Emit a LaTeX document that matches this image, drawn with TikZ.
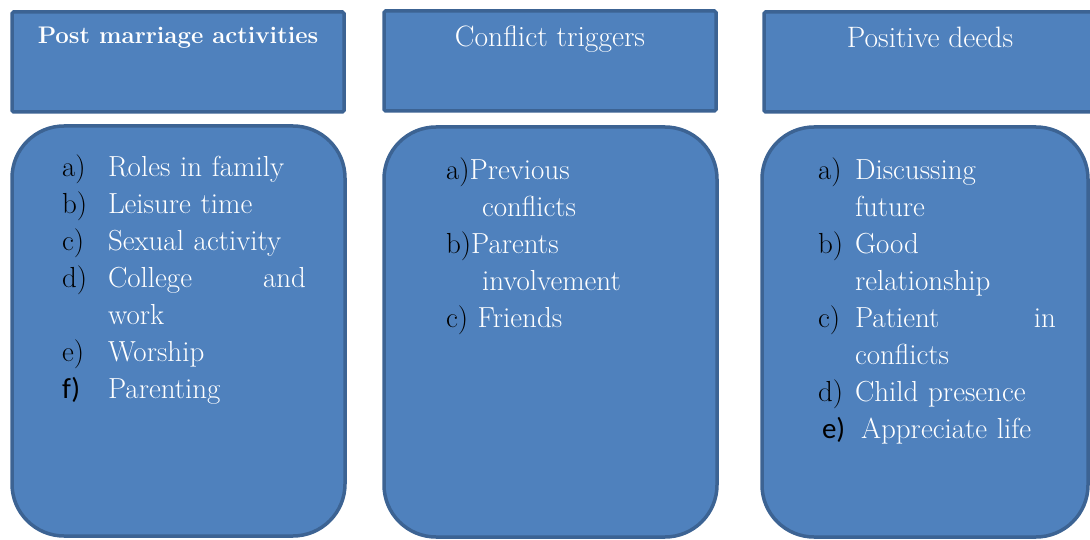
\documentclass[tikz,border=0pt]{standalone}
\usepackage{fontspec}
\newfontfamily\calibri{Carlito}
\definecolor{boxfill}{HTML}{4F81BD}
\definecolor{boxline}{HTML}{3C6393}
\newcommand\lbl[2][46pt]{\makebox[#1][l]{\color{black}#2}}
\begin{document}
\begin{tikzpicture}[x=1pt,y=-1pt,inner sep=0pt,outer sep=0pt,line width=3.5pt,
headbox/.style={draw=boxline,fill=boxfill,rectangle,rounded corners=1.5pt,minimum width=332pt,minimum height=100pt},
bodybox/.style={draw=boxline,fill=boxfill,rectangle,rounded corners=52pt,minimum height=410pt},
headtext/.style={text=white,anchor=north,font=\fontsize{29.5}{35}\selectfont},
listtext/.style={text=white,anchor=north west,align=left,font=\fontsize{29}{37}\selectfont}]
\useasboundingbox (0,0) rectangle (1090,540);
% headers
\draw (178,62) node[headbox] (head1) {};
\draw (550,61) node[headbox] (head2) {};
\draw (930,62) node[headbox] (head3) {};
\draw (head1.north) ++(0,15) node[headtext,font=\fontsize{24}{29}\selectfont\bfseries] (title1) {Post marriage activities};
\draw (head2.north) ++(0,15) node[headtext] (title2) {Conflict triggers};
\draw (head3.north) ++(0,15) node[headtext] (title3) {Positive deeds};
% lists
\draw (178.5,331) node[bodybox,minimum width=333pt] (body1) {};
\draw (550.5,332) node[bodybox,minimum width=333pt] (body2) {};
\draw (925,332) node[bodybox,minimum width=326pt] (body3) {};
\draw (62,155) node[listtext,text width=244pt] (list1) {\lbl{a)}Roles~in~family\\
  \lbl{b)}Leisure~time\\ \lbl{c)}Sexual~activity\\ \lbl{d)}College\hfill and\\
  \hspace*{46pt}work\\ \lbl{e)}Worship\\ \lbl{\calibri f)}Parenting};
\draw (446,158) node[listtext,text width=260pt] (list2) {\textcolor{black}{a)}Previous\\
  \hspace*{36pt}conflicts\\ \textcolor{black}{b)}Parents\\ \hspace*{36pt}involvement\\
  \textcolor{black}{c)} Friends};
\draw (818,158) node[listtext,text width=238pt] (list3) {\lbl[37pt]{a)}Discussing\\
  \hspace*{37pt}future\\ \lbl[37pt]{b)}Good\\ \hspace*{37pt}relationship\\
  \lbl[37pt]{c)}Patient\hfill in\\ \hspace*{37pt}conflicts\\ \lbl[37pt]{d)}Child~presence\\
  \hspace*{4pt}\lbl[39pt]{\calibri e)}Appreciate~life};
\end{tikzpicture}
\end{document}
